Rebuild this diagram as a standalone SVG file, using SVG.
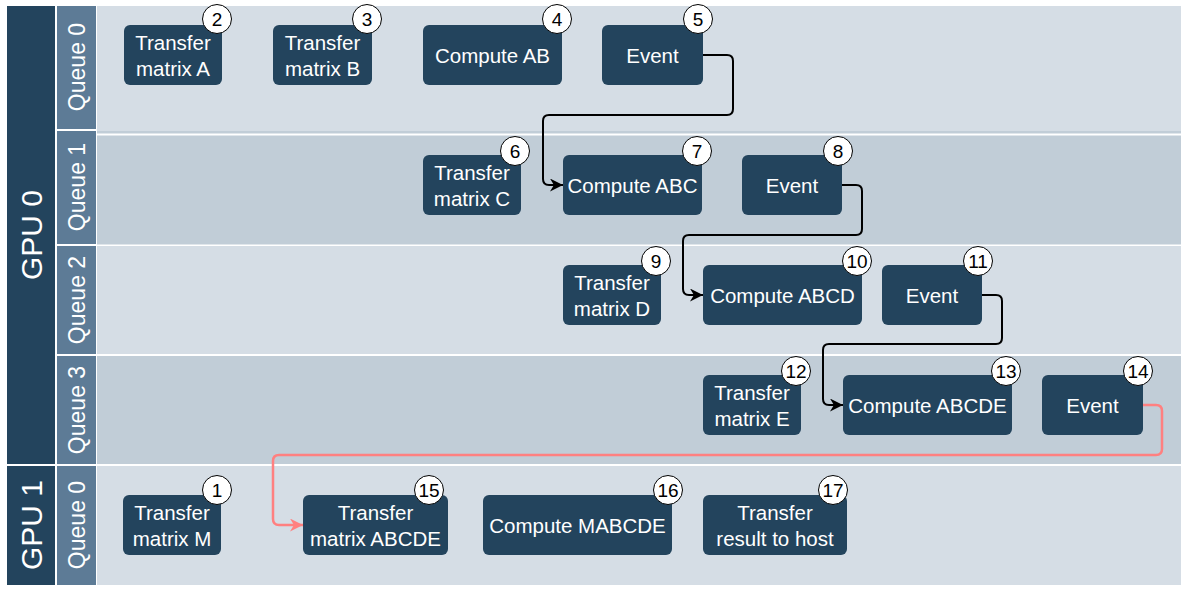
<svg xmlns="http://www.w3.org/2000/svg" width="1189" height="592" viewBox="0 0 1189 592">
<style>
.gpu{fill:#23445d}
.q{fill:#5d7b96}
.la{fill:#d5dde5}
.lb{fill:#c1cdd7}
.gl{font-family:"Liberation Sans",Arial,sans-serif;font-size:30px;fill:#fff;text-anchor:middle}
.ql{font-family:"Liberation Sans",Arial,sans-serif;font-size:23px;fill:#fff;text-anchor:middle}
.n rect{fill:#23445d}
.n text{font-family:"Liberation Sans",Arial,sans-serif;font-size:20.5px;fill:#fff;text-anchor:middle}
.b circle{fill:#fff;stroke:#000;stroke-width:1}
.b text{font-family:"Liberation Sans",Arial,sans-serif;font-size:19px;fill:#000;text-anchor:middle}
.c{fill:none;stroke:#000;stroke-width:2;stroke-linejoin:round}
.cr{fill:none;stroke:#ff8080;stroke-width:2.5;stroke-linejoin:round}
</style>
<defs>
<marker id="ak" markerUnits="userSpaceOnUse" markerWidth="13" markerHeight="13" refX="10" refY="5" orient="auto" viewBox="0 0 10 10"><path d="M0,0 L10,5 L0,10 L3,5 Z" fill="#000"/></marker>
<marker id="ar" markerUnits="userSpaceOnUse" markerWidth="13" markerHeight="13" refX="10" refY="5" orient="auto" viewBox="0 0 10 10"><path d="M0,0 L10,5 L0,10 L3,5 Z" fill="#ff8080"/></marker>
</defs>
<rect width="1189" height="592" fill="#fff"/>
<g id="lanes">
<rect class="la" x="97" y="6" width="1084" height="125"/>
<rect class="lb" x="97" y="131" width="1084" height="2.5"/>
<rect class="lb" x="97" y="135.5" width="1084" height="109"/>
<rect class="la" x="97" y="246" width="1084" height="108"/>
<rect class="lb" x="97" y="356" width="1084" height="108"/>
<rect class="la" x="97" y="466" width="1084" height="119"/>
<rect class="gpu" x="7" y="6" width="48" height="458"/>
<rect class="gpu" x="7" y="466" width="48" height="119"/>
<rect class="q" x="57" y="6" width="39" height="123"/>
<rect class="q" x="57" y="131" width="39" height="113"/>
<rect class="q" x="57" y="246" width="39" height="108"/>
<rect class="q" x="57" y="356" width="39" height="108"/>
<rect class="q" x="57" y="466" width="39" height="119"/>
<text class="gl" transform="translate(42,235) rotate(-90)">GPU 0</text>
<text class="gl" transform="translate(42,525) rotate(-90)">GPU 1</text>
<text class="ql" transform="translate(84.5,67) rotate(-90)">Queue 0</text>
<text class="ql" transform="translate(84.5,187) rotate(-90)">Queue 1</text>
<text class="ql" transform="translate(84.5,300) rotate(-90)">Queue 2</text>
<text class="ql" transform="translate(84.5,410) rotate(-90)">Queue 3</text>
<text class="ql" transform="translate(84.5,525) rotate(-90)">Queue 0</text>
</g>
<g id="connectors">
<path class="c" d="M703,55 H727 Q733,55 733,61 V109 Q733,115 727,115 H549 Q543,115 543,121 V179 Q543,185 549,185 H563" marker-end="url(#ak)"/>
<path class="c" d="M842,185 H856 Q862,185 862,191 V229 Q862,235 856,235 H689 Q683,235 683,241 V289 Q683,295 689,295 H703" marker-end="url(#ak)"/>
<path class="c" d="M982,295 H996 Q1002,295 1002,301 V338 Q1002,344 996,344 H829 Q823,344 823,350 V399 Q823,405 829,405 H843" marker-end="url(#ak)"/>
<path class="cr" d="M1143,405 H1156 Q1162,405 1162,411 V449 Q1162,455 1156,455 H279 Q273,455 273,461 V519 Q273,525 279,525 H303" marker-end="url(#ar)"/>
</g>
<g id="n1" class="n"><rect x="123" y="495" width="98" height="60" rx="6"/><text x="172" y="519.5">Transfer</text><text x="172" y="545.5">matrix M</text></g>
<g id="n2" class="n"><rect x="124" y="25" width="98" height="60" rx="6"/><text x="173" y="49.5">Transfer</text><text x="173" y="75.5">matrix A</text></g>
<g id="n3" class="n"><rect x="273" y="25" width="99" height="60" rx="6"/><text x="322.5" y="49.5">Transfer</text><text x="322.5" y="75.5">matrix B</text></g>
<g id="n4" class="n"><rect x="423" y="25" width="139" height="60" rx="6"/><text x="492.5" y="62.5">Compute AB</text></g>
<g id="n5" class="n"><rect x="602" y="25" width="101" height="60" rx="6"/><text x="652.5" y="62.5">Event</text></g>
<g id="n6" class="n"><rect x="423" y="155" width="98" height="60" rx="6"/><text x="472" y="179.5">Transfer</text><text x="472" y="205.5">matrix C</text></g>
<g id="n7" class="n"><rect x="563" y="155" width="139" height="60" rx="6"/><text x="632.5" y="192.5">Compute ABC</text></g>
<g id="n8" class="n"><rect x="742" y="155" width="100" height="60" rx="6"/><text x="792" y="192.5">Event</text></g>
<g id="n9" class="n"><rect x="563" y="265" width="98" height="60" rx="6"/><text x="612" y="289.5">Transfer</text><text x="612" y="315.5">matrix D</text></g>
<g id="n10" class="n"><rect x="703" y="265" width="159" height="60" rx="6"/><text x="782.5" y="302.5">Compute ABCD</text></g>
<g id="n11" class="n"><rect x="882" y="265" width="100" height="60" rx="6"/><text x="932" y="302.5">Event</text></g>
<g id="n12" class="n"><rect x="703" y="375" width="98" height="60" rx="6"/><text x="752" y="399.5">Transfer</text><text x="752" y="425.5">matrix E</text></g>
<g id="n13" class="n"><rect x="843" y="375" width="169" height="60" rx="6"/><text x="927.5" y="412.5">Compute ABCDE</text></g>
<g id="n14" class="n"><rect x="1042" y="375" width="101" height="60" rx="6"/><text x="1092.5" y="412.5">Event</text></g>
<g id="n15" class="n"><rect x="303" y="495" width="145" height="60" rx="6"/><text x="375.5" y="519.5">Transfer</text><text x="375.5" y="545.5">matrix ABCDE</text></g>
<g id="n16" class="n"><rect x="483" y="495" width="189" height="60" rx="6"/><text x="577.5" y="532.5">Compute MABCDE</text></g>
<g id="n17" class="n"><rect x="703" y="495" width="144" height="60" rx="6"/><text x="775" y="519.5">Transfer</text><text x="775" y="545.5">result to host</text></g>
<g id="badges" class="b">
<g id="b1"><circle cx="217" cy="490" r="14.5"/><text x="217" y="497">1</text></g>
<g id="b2"><circle cx="217" cy="19" r="14.5"/><text x="217" y="26">2</text></g>
<g id="b3"><circle cx="367" cy="19" r="14.5"/><text x="367" y="26">3</text></g>
<g id="b4"><circle cx="557" cy="19" r="14.5"/><text x="557" y="26">4</text></g>
<g id="b5"><circle cx="698" cy="19" r="14.5"/><text x="698" y="26">5</text></g>
<g id="b6"><circle cx="515" cy="151" r="14.5"/><text x="515" y="158">6</text></g>
<g id="b7"><circle cx="697" cy="151" r="14.5"/><text x="697" y="158">7</text></g>
<g id="b8"><circle cx="838" cy="151" r="14.5"/><text x="838" y="158">8</text></g>
<g id="b9"><circle cx="656" cy="261" r="14.5"/><text x="656" y="268">9</text></g>
<g id="b10"><circle cx="857" cy="261" r="14.5"/><text x="857" y="268">10</text></g>
<g id="b11"><circle cx="978" cy="261" r="14.5"/><text x="978" y="268">11</text></g>
<g id="b12"><circle cx="796" cy="371" r="14.5"/><text x="796" y="378">12</text></g>
<g id="b13"><circle cx="1006" cy="371" r="14.5"/><text x="1006" y="378">13</text></g>
<g id="b14"><circle cx="1138" cy="371" r="14.5"/><text x="1138" y="378">14</text></g>
<g id="b15"><circle cx="429" cy="490" r="14.5"/><text x="429" y="497">15</text></g>
<g id="b16"><circle cx="668" cy="490" r="14.5"/><text x="668" y="497">16</text></g>
<g id="b17"><circle cx="833" cy="490" r="14.5"/><text x="833" y="497">17</text></g>
</g>
</svg>
